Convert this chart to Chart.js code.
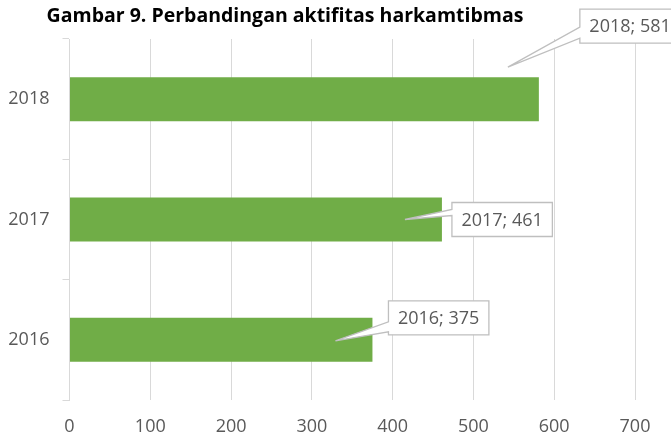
<!DOCTYPE html>
<html>
<head>
<meta charset="utf-8">
<title>Gambar 9</title>
<script src="https://cdn.jsdelivr.net/npm/chart.js@4.4.1/dist/chart.umd.min.js"></script>
<style>
  html, body { margin: 0; padding: 0; background: #fff; }
  .chart-box { width: 671px; height: 437px; position: relative; }
</style>
</head>
<body>
<div class="chart-box"><canvas id="harkamChart"></canvas></div>
<script>
/* ---------- DATA ---------- */
const years = ['2018', '2017', '2016'];
const activities = [581, 461, 375];
const xTicks = [0, 100, 200, 300, 400, 500, 600, 700];
const chartTitle = 'Gambar 9. Perbandingan aktifitas harkamtibmas';

/* ---------- STYLE ---------- */
const FONT = "'Open Sans', 'Liberation Sans', sans-serif";
const GRID = '#d9d9d9';
const TEXT = '#595959';

// callout boxes, offsets from the bar end / bar centre line
const callouts = [
  { box: [41, -90], base: [18, 29], tip: [-31, -32] },
  { box: [10, -17], base: [7, 13], tip: [-37, 0] },
  { box: [16, -39], base: [21, 31], tip: [-37, 1] }
];

/* ---------- PLUGINS ---------- */
const titlePlugin = {
  id: 'excelTitle',
  afterDraw(chart) {
    const ctx = chart.ctx;
    ctx.save();
    ctx.font = `bold 19.5px ${FONT}`;
    ctx.fillStyle = '#000';
    ctx.textAlign = 'center';
    ctx.textBaseline = 'middle';
    ctx.fillText(chartTitle, 285, 16);
    ctx.restore();
  }
};

const calloutPlugin = {
  id: 'callouts',
  afterDatasetsDraw(chart) {
    const ctx = chart.ctx;
    const bars = chart.getDatasetMeta(0).data;
    ctx.save();
    ctx.font = `18px ${FONT}`;
    bars.forEach((bar, i) => {
      const c = callouts[i];
      const text = years[i] + '; ' + activities[i];
      const w = ctx.measureText(text).width + 19;
      const h = 34;
      const x0 = bar.x + c.box[0], y0 = bar.y + c.box[1];
      ctx.beginPath();
      ctx.moveTo(x0, y0);
      ctx.lineTo(x0 + w, y0);
      ctx.lineTo(x0 + w, y0 + h);
      ctx.lineTo(x0, y0 + h);
      ctx.lineTo(x0, y0 + c.base[1]);
      ctx.lineTo(bar.x + c.tip[0], bar.y + c.tip[1]);
      ctx.lineTo(x0, y0 + c.base[0]);
      ctx.closePath();
      ctx.fillStyle = '#fff';
      ctx.fill();
      ctx.strokeStyle = '#bfbfbf';
      ctx.lineWidth = 1.3;
      ctx.stroke();
      ctx.fillStyle = TEXT;
      ctx.textAlign = 'center';
      ctx.textBaseline = 'middle';
      ctx.fillText(text, x0 + w / 2, y0 + h / 2 + 1);
    });
    ctx.restore();
  }
};

/* ---------- CHART ---------- */
new Chart(document.getElementById('harkamChart'), {
  type: 'bar',
  data: {
    labels: years,
    datasets: [{
      data: activities,
      backgroundColor: '#70ad47',
      borderWidth: 0,
      barPercentage: 0.366,
      categoryPercentage: 1
    }]
  },
  options: {
    indexAxis: 'y',
    responsive: true,
    maintainAspectRatio: false,
    animation: false,
    layout: { padding: { top: 39, right: 36, bottom: 0, left: 0 } },
    plugins: {
      legend: { display: false },
      title: { display: false },
      tooltip: { enabled: false }
    },
    scales: {
      x: {
        min: xTicks[0],
        max: xTicks[xTicks.length - 1],
        afterBuildTicks: s => { s.ticks = xTicks.map(v => ({ value: v })); },
        afterFit: s => { s.height = 37; },
        grid: { color: GRID, lineWidth: 1, drawTicks: false },
        border: { display: false },
        ticks: { color: TEXT, font: { family: FONT, size: 18 }, padding: 16 }
      },
      y: {
        afterFit: s => { s.width = 69.5; },
        grid: { drawOnChartArea: false, drawTicks: true, tickLength: 7, color: GRID, offset: true },
        border: { display: true, color: GRID, width: 1 },
        ticks: { color: TEXT, font: { family: FONT, size: 18 }, padding: 13 }
      }
    }
  },
  plugins: [titlePlugin, calloutPlugin]
});
</script>
</body>
</html>
